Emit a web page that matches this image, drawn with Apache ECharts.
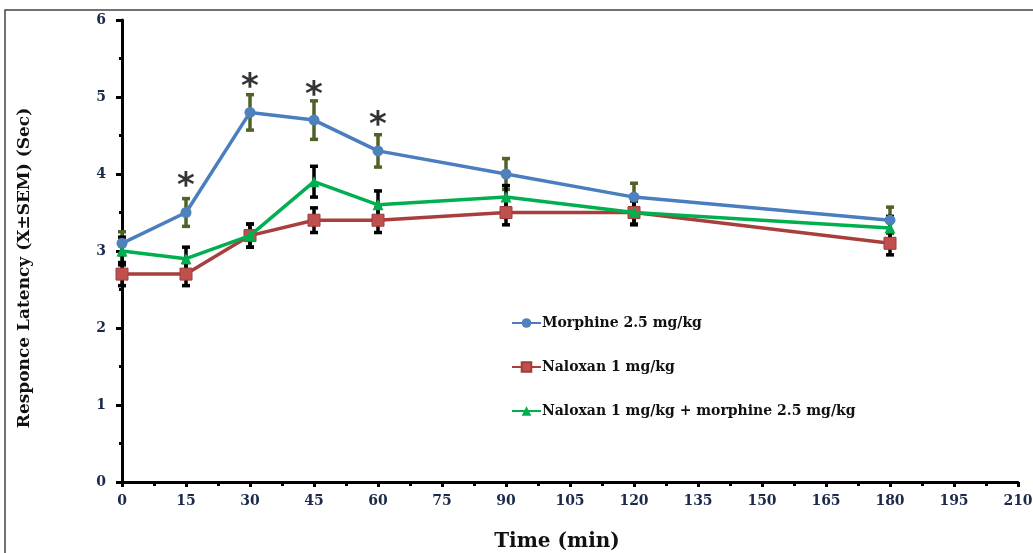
<!DOCTYPE html>
<html>
<head>
<meta charset="utf-8">
<script src="https://cdn.jsdelivr.net/npm/echarts@6/dist/echarts.min.js"></script>
<style>
  html, body { margin: 0; padding: 0; background: #fff; }
  #chart { width: 1033px; height: 553px; }
</style>
</head>
<body>
<div id="chart"></div>
<script>
// time points (min)
var times = [0, 15, 30, 45, 60, 90, 120, 180];

// mean latency (sec) and SEM
var morphine = [3.1, 3.5, 4.8, 4.7, 4.3, 4.0, 3.7, 3.4];
var morphineErr = [0.15, 0.18, 0.23, 0.25, 0.21, 0.2, 0.18, 0.17];
var naloxan = [2.7, 2.7, 3.2, 3.4, 3.4, 3.5, 3.5, 3.1];
var naloxanErr = [0.15, 0.15, 0.15, 0.16, 0.16, 0.16, 0.16, 0.15];
var combo = [3.0, 2.9, 3.2, 3.9, 3.6, 3.7, 3.5, 3.3];
var comboErr = [0.18, 0.15, 0.15, 0.2, 0.18, 0.15, 0.15, 0.15];

// significance marks
var starTimes = [15, 30, 45, 60];
var starY = [3.93, 5.22, 5.12, 4.72];

var seriesNames = ['Morphine 2.5 mg/kg', 'Naloxan 1 mg/kg', 'Naloxan 1 mg/kg + morphine 2.5 mg/kg'];

var serif = '"DejaVu Serif", "Liberation Serif", serif';

function pairs(ys) {
    var out = [];
    for (var i = 0; i < times.length; i++) out.push([times[i], ys[i]]);
    return out;
}
function errRows(ys, errs) {
    var out = [];
    for (var i = 0; i < times.length; i++) out.push([times[i], ys[i], errs[i]]);
    return out;
}

// vertical error bar with caps
function errorBar(color) {
    return function(params, api) {
        var x = api.value(0), y = api.value(1), e = api.value(2);
        var hi = api.coord([x, y + e]);
        var lo = api.coord([x, y - e]);
        var w = 4;
        var st = { stroke: color, lineWidth: 3.5 };
        return {
            type: 'group',
            children: [
                { type: 'line', shape: { x1: hi[0], y1: hi[1], x2: lo[0], y2: lo[1] }, style: st },
                { type: 'line', shape: { x1: hi[0] - w, y1: hi[1], x2: hi[0] + w, y2: hi[1] }, style: st },
                { type: 'line', shape: { x1: lo[0] - w, y1: lo[1], x2: lo[0] + w, y2: lo[1] }, style: st }
            ]
        };
    };
}

var starData = [];
for (var i = 0; i < starTimes.length; i++) starData.push([starTimes[i], starY[i]]);

var myChart = echarts.init(document.getElementById('chart'));
var option = {
    animation: false,
    backgroundColor: '#fff',
    textStyle: { fontFamily: serif },
    graphic: [{
        type: 'rect',
        shape: { x: 5, y: 10, width: 1100, height: 600 },
        style: { fill: 'none', stroke: '#444', lineWidth: 1.5 },
        silent: true
    }, {
        // y axis title
        type: 'text',
        x: 25, y: 268,
        rotation: Math.PI / 2,
        style: {
            text: 'Responce Latency (X\u00B1SEM) (Sec)',
            font: 'bold 17px ' + serif,
            fill: '#111',
            align: 'center',
            verticalAlign: 'middle'
        },
        silent: true
    }, {
        // x axis title
        type: 'text',
        x: 557, y: 542,
        style: {
            text: 'Time (min)',
            font: 'bold 20px ' + serif,
            fill: '#111',
            align: 'center',
            verticalAlign: 'middle'
        },
        silent: true
    }],
    grid: { left: 122, right: 15, top: 20, bottom: 71, outerBoundsMode: 'none' },
    legend: {
        orient: 'vertical',
        left: 506,
        top: 311,
        itemWidth: 29,
        itemHeight: 12,
        itemGap: 30,
        data: seriesNames,
        textStyle: { fontFamily: serif, fontWeight: 'bold', fontSize: 14, color: '#111', padding: [0, 0, 0, -4] }
    },
    xAxis: {
        type: 'value',
        min: 0, max: 210, interval: 15,
        axisLine: { show: true, lineStyle: { color: '#000', width: 3 } },
        axisTick: { show: true, length: 5, lineStyle: { color: '#000', width: 3 } },
        minorTick: { show: true, splitNumber: 2, length: 4, lineStyle: { color: '#000', width: 3 } },
        axisLabel: { fontFamily: serif, fontWeight: 'bold', fontSize: 14, color: '#1b2a4a', margin: 12 },
        splitLine: { show: false }
    },
    yAxis: {
        type: 'value',
        min: 0, max: 6, interval: 1,
        axisLine: { show: true, lineStyle: { color: '#000', width: 3 } },
        axisTick: { show: true, length: 6, lineStyle: { color: '#000', width: 3 } },
        minorTick: { show: true, splitNumber: 2, length: 3, lineStyle: { color: '#000', width: 3 } },
        axisLabel: { fontFamily: serif, fontWeight: 'bold', fontSize: 14, color: '#1b2a4a', margin: 16 },
        splitLine: { show: false }
    },
    series: [
        {
            type: 'custom', z: 1, silent: true,
            renderItem: errorBar('#4f6228'),
            encode: { x: 0, y: 1 },
            data: errRows(morphine, morphineErr)
        },
        {
            type: 'custom', z: 1, silent: true,
            renderItem: errorBar('#000'),
            encode: { x: 0, y: 1 },
            data: errRows(naloxan, naloxanErr)
        },
        {
            type: 'custom', z: 1, silent: true,
            renderItem: errorBar('#000'),
            encode: { x: 0, y: 1 },
            data: errRows(combo, comboErr)
        },
        {
            name: seriesNames[0],
            type: 'line', z: 4,
            data: pairs(morphine),
            symbol: 'circle', symbolSize: 11,
            itemStyle: { color: '#4f81bd' },
            lineStyle: { color: '#4a7ebf', width: 3.5 }
        },
        {
            name: seriesNames[1],
            type: 'line', z: 3,
            data: pairs(naloxan),
            symbol: 'rect', symbolSize: 12,
            itemStyle: { color: '#c0504d', borderColor: '#a03d3a', borderWidth: 1 },
            lineStyle: { color: '#a83f3c', width: 3.5 }
        },
        {
            name: seriesNames[2],
            type: 'line', z: 5,
            data: pairs(combo),
            symbol: 'triangle', symbolSize: 11,
            itemStyle: { color: '#00b050' },
            lineStyle: { color: '#00b050', width: 3.5 }
        },
        {
            type: 'scatter', z: 6, silent: true,
            data: starData,
            symbolSize: 1,
            itemStyle: { color: 'rgba(0,0,0,0)' },
            label: {
                show: true,
                position: 'inside',
                formatter: '*',
                fontFamily: '"DejaVu Sans", sans-serif',
                fontWeight: 'bold',
                fontSize: 34,
                color: '#000',
                offset: [0, 8]
            }
        }
    ]
};
myChart.setOption(option);
</script>
</body>
</html>
